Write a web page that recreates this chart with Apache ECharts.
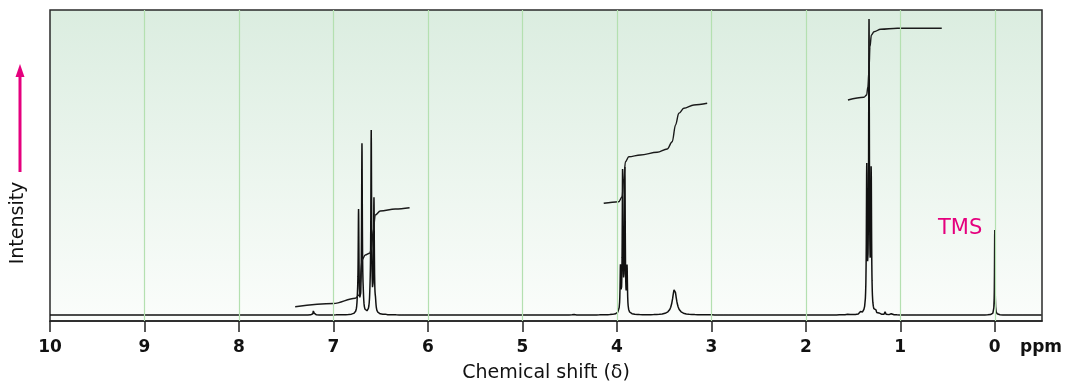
<!DOCTYPE html>
<html>
<head>
<meta charset="utf-8">
<script src="https://cdn.jsdelivr.net/npm/echarts@6/dist/echarts.min.js"></script>
<style>html,body{margin:0;padding:0;background:#fff}#c{width:1066px;height:383px}</style>
</head>
<body>
<div id="c"></div>
<script>
// ---- data ----
const ppmTicks = [0, 1, 2, 3, 4, 5, 6, 7, 8, 9, 10];
const gridPpm = [0, 1, 2, 3, 4, 5, 6, 7, 8, 9];
// peak list: position (ppm), height (intensity units), half width (ppm)
const peakPpm    = [7.21, 6.745, 6.734, 6.698, 6.685, 6.612, 6.600, 6.571, 6.555, 6.46, 4.46, 3.962, 3.939, 3.915, 3.892, 3.39, 1.55, 1.42, 1.355, 1.331, 1.308, 1.26, 1.22, 1.16, 1.10, 0.0];
const peakHeight = [6, 8, 101, 168, 9, 9, 180, 112, 8, 2, 2, 44, 141, 141, 44, 26, 2, 2, 141, 286, 138, 4, 3, 3, 2, 85];
const peakWidth  = [0.004, 0.006, 0.0045, 0.0045, 0.006, 0.006, 0.0045, 0.0045, 0.006, 0.004, 0.004, 0.0045, 0.0045, 0.0045, 0.0045, 0.026, 0.004, 0.004, 0.0045, 0.0045, 0.0045, 0.004, 0.004, 0.004, 0.004, 0.003];
// integral traces [ppm, value]
const integralAromatic = [[7.405, 8.3], [7.0, 11.5], [6.769, 16.7], [6.727, 20], [6.698, 55], [6.663, 60], [6.618, 61.7], [6.600, 65], [6.578, 85], [6.557, 100], [6.504, 104], [6.345, 106], [6.194, 107.3]];
const integralOCH2 = [[4.139, 111.7], [3.980, 113.3], [3.944, 118.3], [3.927, 136.7], [3.909, 153.3], [3.874, 158.3], [3.750, 160], [3.573, 162.7], [3.467, 166], [3.414, 173.3], [3.379, 190], [3.344, 201.7], [3.291, 206.7], [3.185, 210], [3.044, 211.7]];
const integralCH3 = [[1.554, 215], [1.385, 217.7], [1.356, 220], [1.343, 228.3], [1.331, 245], [1.321, 268.3], [1.306, 280], [1.278, 283.3], [1.208, 285.7], [1.031, 286.7], [0.561, 286.7]];

// ---- build spectrum line from the peak table ----
function buildSpectrum() {
  const xs = [];
  for (let i = 0; i <= 2100; i++) xs.push(-0.5 + i * 0.005);
  const ks = [0, 0.3, 0.7, 1, 1.5, 2, 3, 5, 8, 13, 20, 35, 60, 100];
  peakPpm.forEach((p, i) => {
    ks.forEach(k => { xs.push(p + k * peakWidth[i]); xs.push(p - k * peakWidth[i]); });
  });
  xs.sort((a, b) => b - a);
  const out = [];
  let last = null;
  xs.forEach(x => {
    if (x < -0.5 || x > 10) return;
    if (last !== null && Math.abs(x - last) < 1e-7) return;
    last = x;
    let y = 0;
    peakPpm.forEach((p, i) => {
      const d = (x - p) / peakWidth[i];
      y += peakHeight[i] / (1 + d * d);
    });
    out.push([x, y]);
  });
  return out;
}

const FONT = 'DejaVu Sans';
const MAG = '#e5007e';
const chart = echarts.init(document.getElementById('c'), null, { renderer: 'canvas' });
const intStyle = { color: '#1a1a1a', width: 1.4 };
chart.setOption({
  animation: false,
  grid: {
    left: 50, right: 24, top: 10, bottom: 62, show: true,
    containLabel: false, outerBoundsMode: 'none',
    borderColor: '#2a2a2a', borderWidth: 1.5,
    backgroundColor: new echarts.graphic.LinearGradient(0, 0, 0, 1, [
      { offset: 0, color: '#dbede0' },
      { offset: 1, color: '#fbfdfb' }
    ])
  },
  xAxis: {
    type: 'value', min: -0.5, max: 10, inverse: true, position: 'bottom',
    axisLine: { show: true, onZero: false, lineStyle: { color: '#222', width: 1.5 } },
    axisTick: { show: true, customValues: ppmTicks, length: 11, lineStyle: { color: '#222', width: 1.5 } },
    axisLabel: { customValues: ppmTicks, fontFamily: FONT, fontWeight: 'bold', fontSize: 17, color: '#111', margin: 18 },
    splitLine: { show: false },
    name: 'Chemical shift (δ)', nameLocation: 'middle', nameGap: 43,
    nameTextStyle: { fontFamily: FONT, fontSize: 19, color: '#111' }
  },
  yAxis: { type: 'value', min: -6, max: 305, show: false, splitLine: { show: false } },
  series: [
    {
      type: 'line', data: [], z: 1, silent: true,
      markLine: {
        silent: true, symbol: 'none', label: { show: false },
        lineStyle: { color: '#b4e0b0', width: 1.2, type: 'solid' },
        data: gridPpm.map(v => ({ xAxis: v }))
      }
    },
    {
      type: 'line', data: buildSpectrum(), z: 3, showSymbol: false, silent: true,
      lineStyle: { color: '#111', width: 1.5 }
    },
    { type: 'line', data: integralAromatic, z: 4, showSymbol: false, smooth: 0.35, smoothMonotone: 'x', lineStyle: intStyle },
    { type: 'line', data: integralOCH2, z: 4, showSymbol: false, smooth: 0.35, smoothMonotone: 'x', lineStyle: intStyle },
    { type: 'line', data: integralCH3, z: 4, showSymbol: false, smooth: 0.35, smoothMonotone: 'x', lineStyle: intStyle }
  ],
  graphic: [
    { type: 'text', x: 1020, y: 348, style: { text: 'ppm', font: 'bold 17px "' + FONT + '"', fill: '#111', verticalAlign: 'middle' } },
    { type: 'text', x: 18, y: 223, rotation: Math.PI / 2, style: { text: 'Intensity', font: '19px "' + FONT + '"', fill: '#111', align: 'center', verticalAlign: 'middle' } },
    { type: 'line', shape: { x1: 20, y1: 172, x2: 20, y2: 74 }, style: { stroke: MAG, lineWidth: 3 } },
    { type: 'polygon', shape: { points: [[15.5, 77], [24.5, 77], [20, 64]] }, style: { fill: MAG } },
    { type: 'text', x: 938, y: 229, style: { text: 'TMS', font: '21px "' + FONT + '"', fill: MAG, align: 'left', verticalAlign: 'middle' } }
  ]
});
</script>
</body>
</html>
